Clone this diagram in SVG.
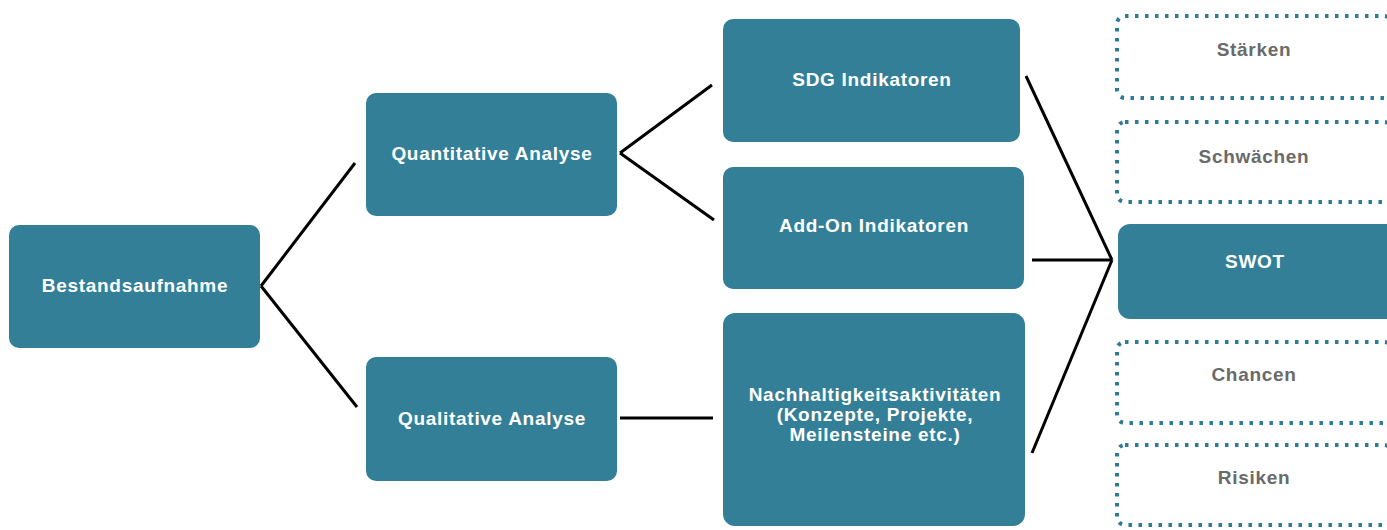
<svg xmlns="http://www.w3.org/2000/svg" width="1387" height="530" viewBox="0 0 1387 530">
<style>
.box{fill:#337f98;}
.dot{fill:none;stroke:#2d7c96;stroke-width:4;stroke-dasharray:3.5 6.5;}
.t{font-family:"Liberation Sans",Arial,sans-serif;font-weight:bold;font-size:19px;letter-spacing:0.7px;text-anchor:middle;fill:#ffffff;}
.g{fill:#6a6a6a;}
.c{fill:none;stroke:#000;stroke-width:3;stroke-linecap:butt;}
</style>
<rect width="1387" height="530" fill="#ffffff"/>
<g id="connectors">
<line class="c" x1="261" y1="286" x2="355" y2="163"/>
<line class="c" x1="261" y1="286" x2="357" y2="407"/>
<line class="c" x1="620" y1="153" x2="712" y2="85"/>
<line class="c" x1="620" y1="153" x2="714" y2="220"/>
<line class="c" x1="620" y1="418" x2="713" y2="418"/>
<line class="c" x1="1026" y1="76" x2="1112" y2="260"/>
<line class="c" x1="1032" y1="260" x2="1112" y2="260"/>
<line class="c" x1="1032" y1="453" x2="1112" y2="260"/>
</g>
<g id="bestandsaufnahme">
<rect class="box" x="9" y="225" width="251" height="123" rx="10"/>
<text class="t" x="135" y="292">Bestandsaufnahme</text>
</g>
<g id="quantitative">
<rect class="box" x="366" y="93" width="251" height="123" rx="10"/>
<text class="t" x="492" y="160">Quantitative Analyse</text>
</g>
<g id="qualitative">
<rect class="box" x="366" y="357" width="251" height="124" rx="10"/>
<text class="t" x="492" y="425">Qualitative Analyse</text>
</g>
<g id="sdg">
<rect class="box" x="723" y="19" width="297" height="123" rx="10"/>
<text class="t" x="872" y="86">SDG Indikatoren</text>
</g>
<g id="addon">
<rect class="box" x="723" y="167" width="301" height="122" rx="10"/>
<text class="t" x="874" y="232">Add-On Indikatoren</text>
</g>
<g id="nachhaltigkeit">
<rect class="box" x="723" y="313" width="302" height="213" rx="12"/>
<text class="t" x="875" y="401">Nachhaltigkeitsaktivitäten</text>
<text class="t" x="875" y="421">(Konzepte, Projekte,</text>
<text class="t" x="875" y="441">Meilensteine etc.)</text>
</g>
<g id="swot">
<rect class="box" x="1118" y="224" width="280" height="95" rx="12"/>
<text class="t" x="1255" y="268">SWOT</text>
</g>
<g id="staerken">
<rect class="dot" x="1117" y="16" width="275" height="82" rx="8"/>
<text class="t g" x="1254" y="56">Stärken</text>
</g>
<g id="schwaechen">
<rect class="dot" x="1117" y="122" width="275" height="80" rx="8"/>
<text class="t g" x="1254" y="163">Schwächen</text>
</g>
<g id="chancen">
<rect class="dot" x="1117" y="342" width="275" height="81" rx="8"/>
<text class="t g" x="1254" y="381">Chancen</text>
</g>
<g id="risiken">
<rect class="dot" x="1117" y="445" width="275" height="80" rx="8"/>
<text class="t g" x="1254" y="484">Risiken</text>
</g>
</svg>
